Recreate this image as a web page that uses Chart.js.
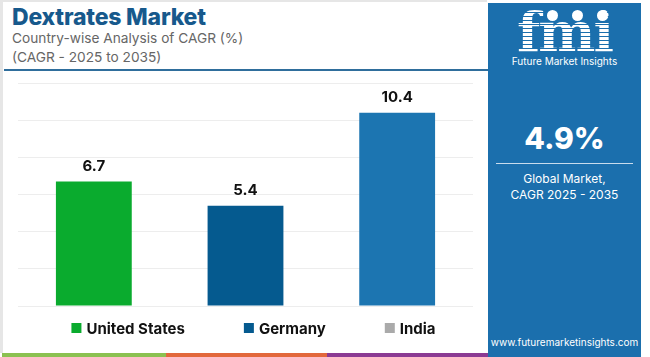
<!DOCTYPE html>
<html lang="en">
<head>
  <meta charset="utf-8">
  <title>Dextrates Market</title>
  <script src="https://cdn.jsdelivr.net/npm/chart.js"></script>
  <style>
    body { margin: 0; width: 650px; height: 357px; background: #fff; overflow: hidden; font-family: Inter, "Open Sans", sans-serif; position: relative; }
    .frame { position: absolute; left: 0; top: 0; width: 487px; height: 353px; border-left: 3px solid #e6e6e6; border-top: 2px solid #e6e6e6; box-sizing: border-box; }
    .title { position: absolute; left: 12px; top: 3px; font-size: 23px; font-weight: 800; color: #17598c; letter-spacing: -0.2px; }
    .sub { position: absolute; left: 12px; font-size: 13.7px; color: #666; }
    .rule { position: absolute; left: 4px; top: 69px; width: 484px; height: 2px; background: #2f6e9c; }
    .stripe { position: absolute; top: 353px; height: 4px; }
    .panel { position: absolute; left: 488px; top: 3px; width: 153px; height: 354px; background: #1b6fad; color: #fff; text-align: center; }
    .logo { position: absolute; left: 0; width: 153px; top: 6px; font-family: "DejaVu Serif", serif; font-weight: bold; font-size: 54px; line-height: 46px; letter-spacing: -2px;
      background: repeating-linear-gradient(#fff 0 3px, #1b6fad 3px 4px); -webkit-background-clip: text; background-clip: text; color: transparent; }
    .dots span { position: absolute; top: 7px; width: 11px; height: 11px; border-radius: 50%; background: #fff; }
    .brand { position: absolute; left: 0; width: 153px; top: 52px; font-size: 10px; }
    .big { position: absolute; left: 0; width: 153px; top: 117px; font-size: 30px; font-weight: 800; }
    .hr { position: absolute; left: 8px; width: 137px; top: 160px; height: 1px; background: #c9dced; }
    .gm { position: absolute; left: 0; width: 153px; top: 168px; font-size: 12px; line-height: 16px; }
    .url { position: absolute; left: 0; width: 153px; top: 333px; font-size: 10px; }
    #wrap { position: absolute; left: 0; top: 75px; width: 487px; height: 272px; }
  </style>
</head>
<body>
  <div class="frame"></div>
  <div class="title">Dextrates Market</div>
  <div class="sub" style="top:30px">Country-wise Analysis of CAGR (%)</div>
  <div class="sub" style="top:49px">(CAGR - 2025 to 2035)</div>
  <div class="rule"></div>
  <div class="stripe" style="left:2px;width:164px;background:#8bc151"></div>
  <div class="stripe" style="left:166px;width:161px;background:#e2683c"></div>
  <div class="stripe" style="left:327px;width:161px;background:#8b3a93"></div>

  <div id="wrap"><canvas id="grafica"></canvas></div>

  <div class="panel">
    <div class="logo">fmi</div>
    <div class="dots"><span style="left:59px"></span><span style="left:84px"></span><span style="left:109px"></span></div>
    <div class="brand">Future Market Insights</div>
    <div class="big">4.9%</div>
    <div class="hr"></div>
    <div class="gm">Global Market,<br>CAGR 2025 - 2035</div>
    <div class="url">www.futuremarketinsights.com</div>
  </div>

<script>
  const paises = ['United States', 'Germany', 'India'];
  const cagr = [6.7, 5.4, 10.4];
  const coloresBarra = ['#0aab2e', '#055a8f', '#1c75b1'];
  const coloresLeyenda = ['#0aab2e', '#055a8f', '#aaaaaa'];
  const ticksY = [0, 2, 4, 6, 8, 10, 12];

  const fuente = 'bold 15px Inter, sans-serif';

  // etiquetas de valor encima de cada barra
  const etiquetas = {
    id: 'etiquetas',
    afterDatasetsDraw(chart) {
      const ctx = chart.ctx;
      const meta = chart.getDatasetMeta(0);
      ctx.save();
      ctx.font = fuente;
      ctx.fillStyle = '#111';
      ctx.textAlign = 'center';
      ctx.textBaseline = 'bottom';
      meta.data.forEach((bar, i) => {
        ctx.fillText(cagr[i].toFixed(1), bar.x, bar.y - 8);
      });
      ctx.restore();
    }
  };

  // leyenda propia: la de Chart.js no deja separar items sin agrandar el alto
  const leyenda = {
    id: 'leyenda',
    afterDraw(chart) {
      const ctx = chart.ctx;
      const area = chart.chartArea;
      const caja = 10, hueco = 5, sep = 59;
      ctx.save();
      ctx.font = fuente;
      const anchos = paises.map(p => caja + hueco + ctx.measureText(p).width);
      const total = anchos.reduce((a, b) => a + b, 0) + sep * (paises.length - 1);
      let x = (area.left + area.right) / 2 + 8 - total / 2;
      const y = area.bottom + 22;
      ctx.textBaseline = 'middle';
      paises.forEach((p, i) => {
        ctx.fillStyle = coloresLeyenda[i];
        ctx.fillRect(x, y - caja / 2, caja, caja);
        ctx.fillStyle = '#111';
        ctx.fillText(p, x + caja + hueco, y + 1);
        x += anchos[i] + sep;
      });
      ctx.restore();
    }
  };

  const config = {
    type: 'bar',
    data: {
      labels: paises,
      datasets: [{
        data: cagr,
        backgroundColor: coloresBarra,
        categoryPercentage: 1.0,
        barPercentage: 0.5
      }]
    },
    options: {
      responsive: true,
      maintainAspectRatio: false,
      animation: false,
      layout: { padding: { left: 18, right: 14, top: 8, bottom: 41 } },
      scales: {
        x: {
          grid: { display: false, drawTicks: false },
          border: { display: false },
          ticks: { display: false }
        },
        y: {
          min: ticksY[0],
          max: ticksY[ticksY.length - 1],
          afterBuildTicks(axis) { axis.ticks = ticksY.map(v => ({ value: v })); },
          grid: { color: '#ededed', lineWidth: 1, drawTicks: false },
          border: { display: false },
          ticks: { display: false }
        }
      },
      plugins: {
        tooltip: { enabled: false },
        legend: { display: false }
      }
    },
    plugins: [etiquetas, leyenda]
  };

  const miGrafica = new Chart(document.getElementById('grafica'), config);
</script>
</body>
</html>
